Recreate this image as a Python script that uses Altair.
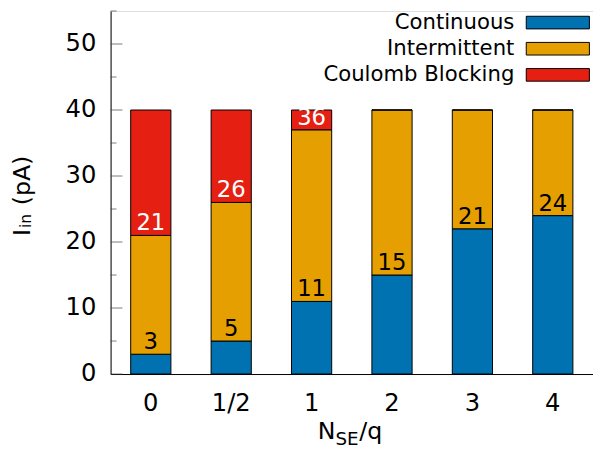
import altair as alt
import pandas as pd

categories = ["0", "1/2", "1", "2", "3", "4"]
continuous_top = [3, 5, 11, 15, 22, 24]
intermittent_top = [21, 26, 37, 40, 40, 40]
coulomb_top = [40, 40, 40, 40, 40, 40]
label_low = ["3", "5", "11", "15", "21", "24"]
label_high = ["21", "26", "36", "", "", ""]
series = ["Continuous", "Intermittent", "Coulomb Blocking"]
colors = ["#0072B2", "#E69F00", "#E52012"]
major_ticks = [0, 10, 20, 30, 40, 50]
minor_ticks = [5, 15, 25, 35, 45, 55]

FONT = "DejaVu Sans"
W, H = 489, 368

rows = []
for i, c in enumerate(categories):
    rows.append({"cat": c, "series": series[0], "y0": 0, "y1": continuous_top[i]})
    rows.append({"cat": c, "series": series[1], "y0": continuous_top[i], "y1": intermittent_top[i]})
    rows.append({"cat": c, "series": series[2], "y0": intermittent_top[i], "y1": coulomb_top[i]})
seg = pd.DataFrame(rows)

low = pd.DataFrame({"cat": categories, "y": continuous_top, "t": label_low})
high = pd.DataFrame({"cat": categories, "y": intermittent_top, "t": label_high})
high = high[high["t"] != ""]

xscale = alt.Scale(domain=categories, paddingInner=0.5, paddingOuter=0.25)
yscale = alt.Scale(domain=[0, 55], nice=False)

bars = alt.Chart(seg).mark_bar(stroke="black", strokeWidth=1).encode(
    x=alt.X("cat:N", scale=xscale, sort=categories,
            axis=alt.Axis(title=None, labelAngle=0, ticks=False, labelPadding=18,
                          labelFontSize=24.5, labelColor="black", domainColor="black")),
    y=alt.Y("y0:Q", scale=yscale,
            axis=alt.Axis(title=None, values=major_ticks, ticks=False, grid=False,
                          labelPadding=15, labelFontSize=24.5, labelColor="black",
                          domainColor="black")),
    y2="y1:Q",
    color=alt.Color("series:N", sort=series,
                    scale=alt.Scale(domain=series, range=colors),
                    legend=alt.Legend(title=None, orient="none", legendX=417, legendY=1,
                                      symbolType="M-5,-1H5V1H-5Z", symbolSize=163.84,
                                      symbolOffset=25.6,
                                      symbolStrokeColor="black", symbolStrokeWidth=1,
                                      symbolOpacity=1,
                                      labelAlign="right", labelOffset={"expr": "-54.8"},
                                      labelFontSize=21.5, labelFont=FONT, labelColor="black",
                                      labelLimit=0, rowPadding=3.5, padding=0)),
)

low_txt = alt.Chart(low).mark_text(fontSize=23, font=FONT, color="black",
                                   baseline="alphabetic", dy=-5).encode(
    x=alt.X("cat:N", scale=xscale, sort=categories), y=alt.Y("y:Q", scale=yscale), text="t:N")
high_txt = alt.Chart(high).mark_text(fontSize=23, font=FONT, color="white",
                                     baseline="alphabetic", dy=-5).encode(
    x=alt.X("cat:N", scale=xscale, sort=categories), y=alt.Y("y:Q", scale=yscale), text="t:N")

major_marks = alt.Chart(pd.DataFrame({"v": major_ticks})).mark_tick(
    color="#444444", thickness=1, orient="horizontal", size=12).encode(
    y=alt.Y("v:Q", scale=yscale), x=alt.value(6))
minor_marks = alt.Chart(pd.DataFrame({"v": minor_ticks})).mark_tick(
    color="#444444", thickness=1, orient="horizontal", size=6).encode(
    y=alt.Y("v:Q", scale=yscale), x=alt.value(3))

# axis titles with subscripts
def txt(s, x, y, size, angle=0, align="left"):
    return alt.Chart(pd.DataFrame({"t": [s]})).mark_text(
        font=FONT, fontSize=size, color="black", align=align, baseline="alphabetic",
        angle=angle).encode(x=alt.value(x), y=alt.value(y), text="t:N")

xt = txt("N", 210, 434, 24) + txt("SE", 228, 440, 18.5) + txt("/q", 252, 434, 24)
yt = txt("I", -82, 228, 24, angle=270) + txt("in", -81, 220, 15.5, angle=270) + \
     txt("(pA)", -82, 197, 24, angle=270)

chart = alt.layer(bars, major_marks, minor_marks, low_txt, high_txt, xt, yt).properties(
    width=W, height=H,
    autosize=alt.AutoSizeParams(type="none"),
    padding={"left": 104, "top": 0, "right": 0, "bottom": 76},
).configure_view(stroke="black", strokeWidth=1).configure(font=FONT)

chart.save("out.html", embed_options={"renderer": "svg", "actions": False})
